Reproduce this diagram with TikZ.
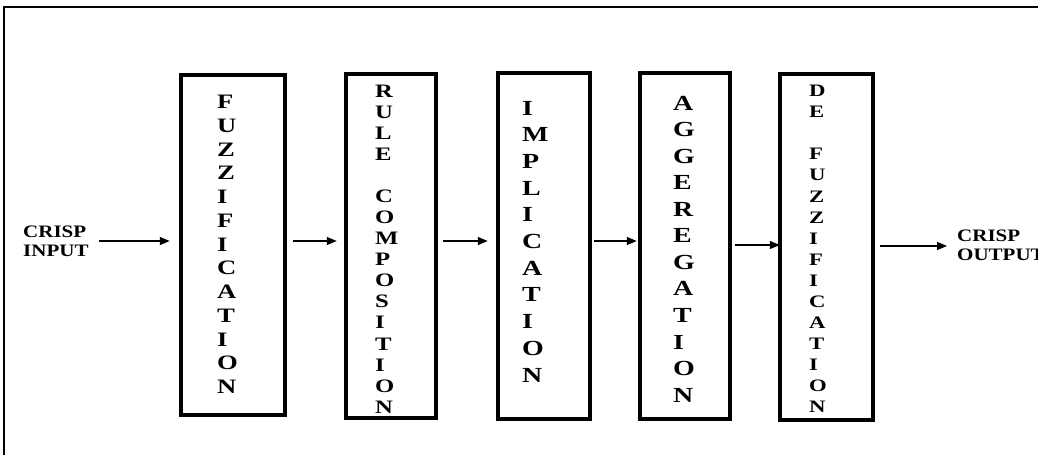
\documentclass[tikz,border=0pt]{standalone}
\usepackage{fontspec}
\newfontfamily\tb[FakeStretch=1.2]{Liberation Serif}
\newfontfamily\tc[FakeStretch=1.3]{Liberation Serif}
\usetikzlibrary{arrows.meta}
\begin{document}
\begin{tikzpicture}[x=1pt,y=-1pt,
  blk/.style={draw,line width=4.5pt,inner sep=0pt,minimum width=#1},
  col/.style={anchor=west,inner sep=0pt,align=left},
  lbl/.style={anchor=west,inner sep=0pt,align=left,font=\tb\bfseries\fontsize{17.5pt}{19pt}\selectfont},
  arr/.style={line width=1.3pt,-{Triangle[length=10pt,width=8pt]}}]
\useasboundingbox (0,0) rectangle (1038,455);
\draw[line width=1.5pt] (4,455) -- (4,7) -- (1038,7);
% boxes
\node[blk=104pt,minimum height=340pt] (b1) at (233,245) {};
\node[blk=90pt,minimum height=344pt] (b2) at (391,246) {};
\node[blk=92pt,minimum height=346pt] (b3) at (544,246) {};
\node[blk=90pt,minimum height=346pt] (b4) at (685,246) {};
\node[blk=93pt,minimum height=346pt] (b5) at (826.5,247) {};
% letter columns
\node[col,font=\tc\bfseries\fontsize{20.5pt}{23.75pt}\selectfont] (t1) at (217,244.5)
  {F\\U\\Z\\Z\\I\\F\\I\\C\\A\\T\\I\\O\\N};
\node[col,font=\tc\bfseries\fontsize{19pt}{21.07pt}\selectfont] (t2) at (375,249)
  {R\\U\\L\\E\\[21.07pt]C\\O\\M\\P\\O\\S\\I\\T\\I\\O\\N};
\node[col,font=\tc\bfseries\fontsize{21.5pt}{26.7pt}\selectfont] (t3) at (522,241.5)
  {I\\M\\P\\L\\I\\C\\A\\T\\I\\O\\N};
\node[col,font=\tc\bfseries\fontsize{21.5pt}{26.55pt}\selectfont] (t4) at (673,249)
  {A\\G\\G\\E\\R\\E\\G\\A\\T\\I\\O\\N};
\node[col,font=\tc\bfseries\fontsize{17.5pt}{21.07pt}\selectfont] (t5) at (809,249)
  {D\\E\\[21.07pt]F\\U\\Z\\Z\\I\\F\\I\\C\\A\\T\\I\\O\\N};
% labels
\node[lbl] (in) at (23,241.5) {CRISP\\INPUT};
\node[lbl] (out) at (957,245) {CRISP\\OUTPUT};
% arrows
\draw[arr] ([xshift=10pt]in.east |- 0,241) -- ([xshift=-9pt]b1.west |- 0,241);
\draw[arr] ([xshift=6pt,yshift=4pt]b1.east) -- ([xshift=-7pt]b2.west |- 0,241);
\draw[arr] ([xshift=5pt,yshift=5pt]b2.east) -- ([xshift=-8pt]b3.west |- 0,241);
\draw[arr] ([xshift=2pt,yshift=5pt]b3.east) -- ([xshift=-1pt]b4.west |- 0,241);
\draw[arr] ([xshift=3pt,yshift=1pt]b4.east) -- ([xshift=2pt]b5.west |- 0,245);
\draw[arr] ([xshift=5pt,yshift=1pt]b5.east) -- ([xshift=-10pt]out.west |- 0,246);
\end{tikzpicture}
\end{document}
